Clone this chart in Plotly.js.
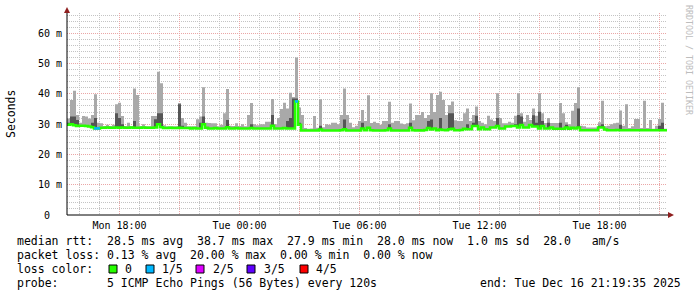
<!DOCTYPE html>
<html><head><meta charset="utf-8">
<script src="https://cdn.plot.ly/plotly-3.0.1.min.js"></script>
<style>html,body{margin:0;padding:0;background:#fff}</style>
</head><body><div id="chart" style="width:697px;height:297px"></div>
<script>
// ---- data (9-minute bins, 30 hours) ----
const binStart = [2025, 11, 15, 15, 22, 30]; // UTC parts, month 0-based
const binMinutes = 9;

// median rtt per bin (ms)
const medianRtt = [
 29.8,30.0,29.6,29.4,29.5,29.5,29.4,29.2,29.0,28.6,
 28.6,28.8,28.8,28.9,28.8,28.8,28.9,28.8,28.9,28.8,
 28.8,28.9,28.8,28.8,28.8,28.9,28.8,28.8,28.8,28.9,
 30.0,29.0,28.7,28.7,28.8,28.7,28.7,28.8,28.7,28.7,
 28.7,28.6,28.7,28.6,28.6,30.0,28.8,28.6,28.6,28.7,
 28.6,28.6,28.6,29.0,28.6,28.6,28.7,28.6,28.6,28.6,
 28.6,28.7,28.6,28.6,28.6,28.6,28.6,28.6,29.5,28.6,
 28.6,28.6,28.7,28.6,28.6,28.6,37.5,29.8,27.9,27.9,
 27.9,27.9,27.9,27.9,28.2,27.9,27.9,27.9,27.9,27.9,
 27.9,28.0,28.3,27.9,27.9,27.9,27.9,27.9,28.6,28.0,
 28.8,28.0,27.9,27.9,27.9,27.9,28.0,28.6,27.9,27.9,
 27.9,27.9,27.9,27.9,28.8,28.0,27.9,28.0,27.9,28.1,
 28.7,28.2,28.6,28.0,28.2,28.1,28.0,28.3,28.5,28.0,
 28.0,28.1,28.5,28.3,28.3,29.4,29.4,28.3,28.9,28.3,
 28.3,28.9,28.9,29.4,28.6,28.6,29.2,29.2,29.4,29.4,
 28.9,29.7,28.9,28.9,29.7,29.2,29.2,28.6,29.4,28.6,
 28.6,28.9,28.5,28.5,28.5,28.5,28.9,28.5,28.8,28.6,
 28.9,28.0,28.0,28.0,28.0,28.0,28.0,28.9,28.9,28.2,
 28.0,28.0,28.0,28.1,28.0,28.0,28.0,28.0,28.0,28.0,
 28.0,28.0,28.0,28.0,28.0,28.0,28.0,28.0,28.0,28.0
];
// highest ping per bin (top of light smoke)
const maxRtt = [
 31.9,38.0,41.0,33.0,30.5,32.7,32.5,31.9,33.0,39.9,
 30.5,30.3,29.4,29.8,29.4,29.8,36.6,37.1,32.7,29.4,
 30.5,29.4,41.8,39.6,29.4,30.0,29.3,29.3,32.7,32.7,
 47.3,43.5,29.6,29.3,29.3,29.3,29.3,37.0,32.0,30.5,
 29.3,29.3,29.3,31.6,32.5,42.2,30.5,30.4,30.3,30.3,
 29.3,29.8,33.6,41.6,29.5,29.4,30.3,29.4,30.0,29.3,
 33.0,37.0,30.0,29.6,30.0,30.0,30.8,30.8,38.3,30.0,
 32.0,35.0,37.1,35.2,40.4,39.0,52.0,35.5,33.0,28.7,
 28.5,28.6,32.7,28.8,38.2,29.0,30.0,29.8,30.5,30.5,
 30.0,33.0,41.8,33.0,30.5,29.0,29.5,31.0,34.7,31.0,
 39.5,30.4,30.8,30.4,29.8,31.0,31.0,37.4,30.5,31.0,
 31.0,30.2,30.0,30.3,36.8,31.3,33.0,33.0,34.0,32.0,
 33.0,40.2,34.0,39.6,40.7,38.0,33.0,36.3,37.5,31.3,
 31.0,31.0,33.6,35.2,31.0,33.0,35.8,31.0,30.5,30.0,
 32.8,31.5,31.0,40.2,32.0,30.3,30.3,30.8,30.5,32.8,
 40.2,33.6,30.8,33.0,31.4,35.2,32.8,40.2,33.6,30.4,
 32.0,30.4,30.4,30.4,37.0,33.6,30.6,30.0,34.4,37.0,
 42.2,29.5,29.3,28.9,28.9,28.9,28.9,30.6,37.7,29.3,
 29.5,30.0,30.3,30.5,34.5,29.5,36.6,28.7,29.3,31.7,
 31.7,28.7,37.7,28.7,31.4,28.5,29.5,31.7,37.1,28.5
];
// 4th ping per bin (top of dark smoke); null = no visible dark band
const innerRtt = [
 30.5,32.5,32.5,31.4,null,null,null,null,30.5,32.0,
 null,null,null,null,null,null,33.6,32.0,30.0,null,
 null,null,31.0,null,null,null,null,null,null,31.6,
 33.6,33.6,null,null,null,null,null,36.6,29.5,null,
 null,null,null,null,30.5,32.5,null,null,null,null,
 null,null,null,31.4,null,null,null,null,null,null,
 null,30.0,null,null,null,null,null,null,33.0,null,
 null,null,null,31.0,32.0,38.5,38.5,30.5,null,null,
 null,null,null,null,29.5,null,null,null,null,null,
 null,null,31.5,null,null,null,null,null,30.5,null,
 null,null,null,null,null,null,null,30.0,null,null,
 null,null,null,null,30.5,null,null,null,null,null,
 31.0,31.5,null,null,32.0,null,null,33.6,33.6,null,
 null,null,null,30.0,null,30.5,32.8,null,null,null,
 null,null,null,32.0,null,null,null,null,null,30.0,
 33.0,32.5,null,null,null,32.9,30.5,34.1,31.0,null,
 30.5,null,null,null,30.5,null,29.8,null,null,null,
 35.2,null,null,null,null,null,null,29.5,30.0,null,
 null,null,null,null,29.8,null,null,null,null,null,
 null,null,null,null,null,null,null,29.5,30.5,null
];
// bins with packet loss and their loss count (of 5)
const lossBins = [9, 10, 76];
const lossLevels = [1, 1, 1];
const lossNames = ['0', '1/5', '2/5', '3/5', '4/5'];
const lossColors = ['#26ff00', '#00b8ff', '#dd00ff', '#5e00ff', '#ff0000'];

const xTickVals = ['2025-12-15 18:00','2025-12-15 21:00','2025-12-16 00:00','2025-12-16 03:00','2025-12-16 06:00','2025-12-16 09:00','2025-12-16 12:00','2025-12-16 15:00','2025-12-16 18:00','2025-12-16 21:00'];
const xTickText = ['Mon 18:00','','Tue 00:00','','Tue 06:00','','Tue 12:00','','Tue 18:00',''];
const yTickVals = [0,10,20,30,40,50,60];
const yTickText = ['0  ','10 m','20 m','30 m','40 m','50 m','60 m'];

const legendLine1 = 'median rtt:  28.5 ms avg  38.7 ms max  27.9 ms min  28.0 ms now  1.0 ms sd  28.0   am/s';
const legendLine2 = 'packet loss: 0.13 % avg  20.00 % max  0.00 % min  0.00 % now';
const legendLine3 = 'loss color:';
const legendLine4 = 'probe:       5 ICMP Echo Pings (56 Bytes) every 120s';
const legendEnd = 'end: Tue Dec 16 21:19:35 2025';

// ---- build ----
const N = medianRtt.length;
const t0 = Date.UTC.apply(null, binStart);
const fmt = ms => new Date(ms).toISOString().slice(0,19).replace('T',' ');
const edges = [];
for (let i = 0; i <= N; i++) edges.push(fmt(t0 + i*binMinutes*60000));
const ext = a => a.concat([a[a.length-1]]);
const nb = s => s.replace(/ /g, '\u00a0');

const L = 67, R = 667, T = 13, B = 215;
const px = x => (x - L) / (R - L);
const py = y => (B - y) / (B - T);

const traces = [
  {x: edges, y: ext(medianRtt), mode:'lines', line:{width:0, shape:'hv'}, hoverinfo:'skip'},
  {x: edges, y: ext(maxRtt.map((m,i)=>Math.max(m, medianRtt[i]))), mode:'lines', line:{width:0, shape:'hv'}, fill:'tonexty', fillcolor:'#a9a9a9', hoverinfo:'skip'},
  {x: edges, y: ext(medianRtt), mode:'lines', line:{width:0, shape:'hv'}, hoverinfo:'skip'},
  {x: edges, y: ext(innerRtt.map((u,i)=> u == null ? medianRtt[i] : Math.max(u, medianRtt[i]))), mode:'lines', line:{width:0, shape:'hv'}, fill:'tonexty', fillcolor:'#555555', hoverinfo:'skip'},
  {x: edges, y: ext(medianRtt), mode:'lines', line:{color: lossColors[0], width:2.5, shape:'hv'}}
];
for (let lv = 1; lv < lossColors.length; lv++) {
  const xs = [], ys = [];
  lossBins.forEach((b, j) => {
    if (lossLevels[j] === lv) { xs.push(edges[b], edges[b+1], null); ys.push(medianRtt[b], medianRtt[b], null); }
  });
  if (xs.length) traces.push({x: xs, y: ys, mode:'lines', line:{color: lossColors[lv], width:2.5}});
}

const mono = 'DejaVu Sans Mono';
const ann = (x, y, text, opts) => Object.assign({xref:'paper', yref:'paper', x: px(x), y: py(y), text: nb(text), showarrow:false, xanchor:'left', yanchor:'middle', borderpad:0, font:{family: mono, size: 11.5, color:'#000'}}, opts || {});

const annotations = [
  ann(16, 241, legendLine1),
  ann(16, 255, legendLine2),
  ann(16, 269, legendLine3),
  ann(16, 283, legendLine4),
  ann(682, 283, legendEnd, {xanchor:'right'}),
  ann(11, 114, 'Seconds', {xanchor:'center', textangle:-90}),
  ann(689, 60, 'RRDTOOL / TOBI OETIKER', {xanchor:'center', textangle:90, font:{family: mono, size: 8.3, color:'#bdbdbd'}})
];
const boxX = [109, 146, 196, 247, 300];
const labX = [124, 161, 212, 263, 315];
const shapes = [];
lossNames.forEach((n, k) => {
  annotations.push(ann(labX[k], 269, n));
  shapes.push({type:'rect', xref:'paper', yref:'paper', x0: px(boxX[k]), x1: px(boxX[k]+8), y0: py(273), y1: py(265), fillcolor: lossColors[k], line:{color:'#000', width:1}});
});
// axes with arrows
shapes.push({type:'line', xref:'paper', yref:'paper', x0: px(67), x1: px(670), y0: 0, y1: 0, line:{color:'#000', width:1}});
shapes.push({type:'line', xref:'paper', yref:'paper', x0: 0, x1: 0, y0: 0, y1: py(10), line:{color:'#000', width:1}});
shapes.push({type:'path', xref:'paper', yref:'paper', path:`M ${px(64)},${py(13)} L ${px(70)},${py(13)} L ${px(67)},${py(7)} Z`, fillcolor:'#8f1f1f', line:{width:0}});
shapes.push({type:'path', xref:'paper', yref:'paper', path:`M ${px(668)},${py(212)} L ${px(668)},${py(218)} L ${px(674)},${py(215)} Z`, fillcolor:'#8f1f1f', line:{width:0}});

const majorGrid = '#eaa6a6', minorGrid = '#c4c4c4', dots = '1px,1px';
const layout = {
  width: 697, height: 297,
  margin: {l: L, r: 697 - R, t: T, b: 297 - B, pad: 0},
  paper_bgcolor: '#ffffff', plot_bgcolor: '#ffffff',
  font: {family: mono, size: 10, color: '#000'},
  showlegend: false,
  xaxis: {type:'date', range:[edges[0], edges[N]], tickmode:'array', tickvals: xTickVals, ticktext: xTickText,
    showgrid:true, gridcolor: majorGrid, griddash: dots, gridwidth:1, zeroline:false, showline:false, ticks:'',
    ticklabelstandoff: 3, tickfont:{family: mono, size:10},
    minor:{tickmode:'linear', tick0:'2025-12-15 00:00', dtick:3600000, showgrid:true, gridcolor: minorGrid, griddash: dots, gridwidth:1, ticks:''},
    fixedrange:true},
  yaxis: {range:[0, 66.7], tickmode:'array', tickvals: yTickVals, ticktext: yTickText.map(nb),
    showgrid:true, gridcolor: majorGrid, griddash: dots, gridwidth:1, zeroline:false, showline:false, ticks:'',
    ticklabelstandoff: 4, tickfont:{family: mono, size:10},
    minor:{tickmode:'linear', tick0:0, dtick:2, showgrid:true, gridcolor: minorGrid, griddash: dots, gridwidth:1, ticks:''},
    fixedrange:true},
  shapes: shapes,
  annotations: annotations
};
Plotly.newPlot('chart', traces, layout, {staticPlot:true, displayModeBar:false});
</script>
</body></html>
